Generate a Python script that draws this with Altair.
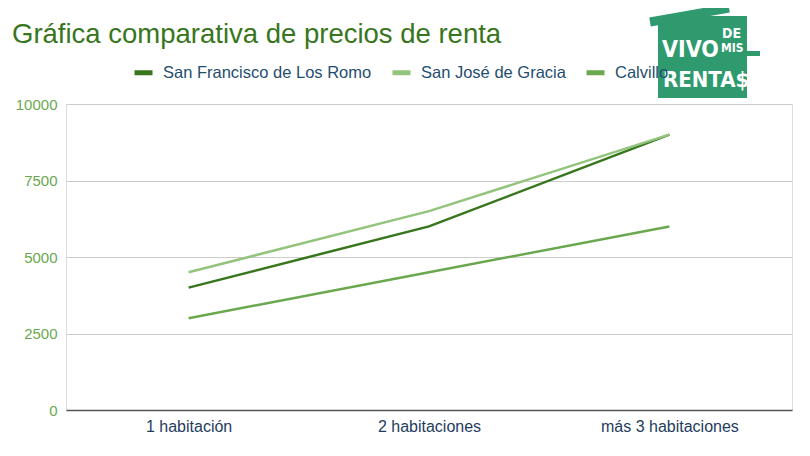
import altair as alt
import pandas as pd

categories = ["1 habitación", "2 habitaciones", "más 3 habitaciones"]
series = ["San Francisco de Los Romo", "San José de Gracia", "Calvillo"]
sf_values = [4000, 6000, 9000]
sj_values = [4500, 6500, 9000]
calvillo_values = [3000, 4500, 6000]
colors = ["#38761d", "#93c47d", "#6aa84f"]
title_text = "Gráfica comparativa de precios de renta"

rows = []
for name, vals in zip(series, [sf_values, sj_values, calvillo_values]):
    for c, v in zip(categories, vals):
        rows.append({"cat": c, "serie": name, "precio": v})
df = pd.DataFrame(rows)
one = pd.DataFrame({"k": [0]})

W, H = 726, 306

lines = alt.Chart(df).mark_line(strokeWidth=2.5).encode(
    x=alt.X("cat:N", sort=categories, title=None,
            scale=alt.Scale(type="point", padding=0.51),
            axis=alt.Axis(labelAngle=0, labelColor="#1f3c5e", labelFontSize=16,
                          labelFont="Liberation Sans", ticks=False, domain=True,
                          domainColor="#555555", domainWidth=1.5, labelPadding=8, grid=False)),
    y=alt.Y("precio:Q", title=None,
            scale=alt.Scale(domain=[0, 10000]),
            axis=alt.Axis(values=[0, 2500, 5000, 7500, 10000], format="d", labelColor="#6aa84f",
                          labelFontSize=15, labelFont="Liberation Sans", ticks=False,
                          domain=False, gridColor="#cccccc", labelPadding=9)),
    color=alt.Color("serie:N", sort=series, title=None,
                    scale=alt.Scale(domain=series, range=colors),
                    legend=alt.Legend(orient="none", legendX=66, legendY=-43,
                                      direction="horizontal", columns=3, zindex=0,
                                      symbolType="stroke", symbolSize=324,
                                      symbolStrokeWidth=5, labelFontSize=16.5,
                                      labelFont="Liberation Sans", labelColor="#1f4e6f",
                                      labelLimit=400, columnPadding=10, labelOffset=8)),
)

title = alt.Chart(one).mark_text(text=title_text, color="#38761d", font="Liberation Sans",
                                 fontSize=27.5, align="left", baseline="alphabetic").encode(
    x=alt.value(-54), y=alt.value(-61))

logo_green = "#2e9a6e"
logo_font = "DejaVu Sans Condensed"
roof = alt.Chart(one).mark_rule(color=logo_green, strokeWidth=9).encode(
    x=alt.value(584), x2=alt.value(663), y=alt.value(-82), y2=alt.value(-96))
body = alt.Chart(one).mark_rect(color=logo_green).encode(
    x=alt.value(592), x2=alt.value(681), y=alt.value(-88), y2=alt.value(-6))
ledge = alt.Chart(one).mark_rect(color=logo_green).encode(
    x=alt.value(679), x2=alt.value(694), y=alt.value(-53), y2=alt.value(-48))
t_vivo = alt.Chart(one).mark_text(text="VIVO", color="white", font=logo_font,
                                  fontWeight="bold", fontSize=23, align="left", baseline="alphabetic").encode(
    x=alt.value(596), y=alt.value(-47))
t_de = alt.Chart(one).mark_text(text="DE", color="white", font=logo_font,
                                fontWeight="bold", fontSize=14, align="left", baseline="alphabetic").encode(
    x=alt.value(656), y=alt.value(-66))
t_mis = alt.Chart(one).mark_text(text="MIS", color="white", font=logo_font,
                                 fontWeight="bold", fontSize=12, align="left", baseline="alphabetic").encode(
    x=alt.value(655), y=alt.value(-52))
t_rentas = alt.Chart(one).mark_text(text="RENTA$", color="white", font=logo_font,
                                    fontWeight="bold", fontSize=22, align="left", baseline="alphabetic").encode(
    x=alt.value(597), y=alt.value(-17))

chart = alt.layer(lines, title, roof, body, ledge, t_vivo, t_de, t_mis, t_rentas).properties(
    width=W, height=H,
    autosize=alt.AutoSizeParams(type="none"),
    padding={"left": 58, "top": 96, "right": 10, "bottom": 40},
).configure_view(stroke=None).configure(background="white")

chart.save("out.html", embed_options={"renderer": "svg", "actions": False})
